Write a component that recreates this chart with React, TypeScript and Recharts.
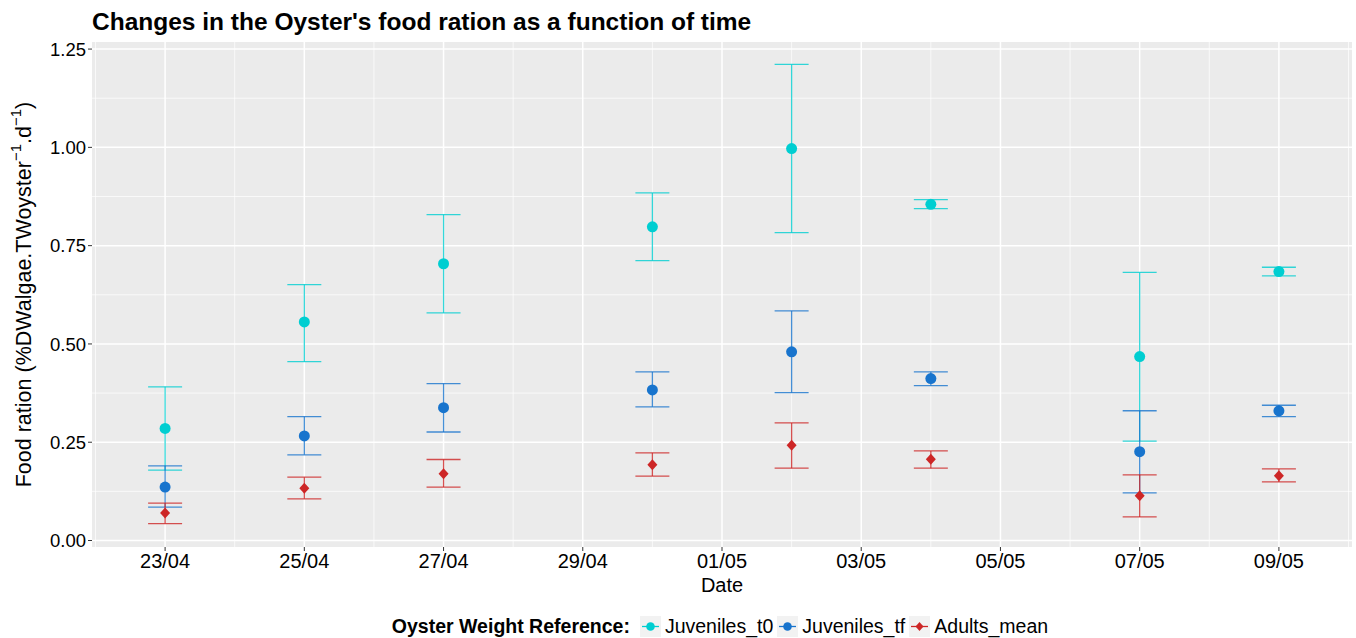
import { ComposedChart, Scatter, ErrorBar, XAxis, YAxis, CartesianGrid, Legend, Label } from 'recharts';

// days counted from 22/04
const sampleDays = [1, 3, 5, 8, 10, 12, 15, 17];
const dateTicks = [1, 3, 5, 7, 9, 11, 13, 15, 17];
const dateLabels = ['23/04', '25/04', '27/04', '29/04', '01/05', '03/05', '05/05', '07/05', '09/05'];
const minorDays = [0, 2, 4, 6, 8, 10, 12, 14, 16, 18];
const yTicks = [0, 0.25, 0.5, 0.75, 1, 1.25];
const yMinor = [0.125, 0.375, 0.625, 0.875, 1.125];
const seriesNames = ['Juveniles_t0', 'Juveniles_tf', 'Adults_mean'];

const t0Mean = [0.285, 0.556, 0.704, 0.798, 0.997, 0.855, 0.468, 0.684];
const t0Low = [0.179, 0.455, 0.579, 0.712, 0.783, 0.844, 0.253, 0.673];
const t0High = [0.391, 0.651, 0.829, 0.884, 1.211, 0.867, 0.682, 0.695];

const tfMean = [0.136, 0.266, 0.338, 0.383, 0.48, 0.412, 0.226, 0.33];
const tfLow = [0.085, 0.218, 0.276, 0.34, 0.376, 0.394, 0.121, 0.315];
const tfHigh = [0.19, 0.315, 0.399, 0.429, 0.584, 0.429, 0.33, 0.344];

const adultMean = [0.07, 0.133, 0.17, 0.193, 0.242, 0.207, 0.114, 0.165];
const adultLow = [0.043, 0.106, 0.136, 0.164, 0.184, 0.184, 0.06, 0.149];
const adultHigh = [0.095, 0.161, 0.206, 0.223, 0.299, 0.228, 0.167, 0.182];

const CYAN = '#00CED1';
const BLUE = '#1874CD';
const RED = '#CD2626';

const build = (mean: number[], low: number[], high: number[]) =>
  sampleDays.map((d, i) => ({ day: d, value: mean[i], err: [mean[i] - low[i], high[i] - mean[i]] }));

const t0Data = build(t0Mean, t0Low, t0High);
const tfData = build(tfMean, tfLow, tfHigh);
const adultData = build(adultMean, adultLow, adultHigh);

const dot = (color: string) => (p: any) => <circle cx={p.cx} cy={p.cy} r={5.5} fill={color} />;
const diamond = (color: string) => (p: any) => (
  <polygon
    points={`${p.cx},${p.cy - 5.5} ${p.cx + 5},${p.cy} ${p.cx},${p.cy + 5.5} ${p.cx - 5},${p.cy}`}
    fill={color}
  />
);

function YTitle({ viewBox }: any) {
  const cx = 24;
  const cy = viewBox.y + viewBox.height / 2;
  return (
    <text x={cx} y={cy} transform={`rotate(-90 ${cx} ${cy})`} textAnchor="middle" dy={7} fontSize={21.5} fill="#000">
      Food ration (%DWalgae.TWoyster
      <tspan dy={-10} fontSize={15}>−1</tspan>
      <tspan dy={10}>.d</tspan>
      <tspan dy={-10} fontSize={15}>−1</tspan>
      <tspan dy={10}>)</tspan>
    </text>
  );
}

function XTitle({ viewBox }: any) {
  return (
    <text x={viewBox.x + viewBox.width / 2} y={592} textAnchor="middle" fontSize={20} fill="#000">
      Date
    </text>
  );
}

function LegendKey({ color, type }: { color: string; type: string }) {
  return (
    <svg width={21} height={21} style={{ display: 'block' }}>
      <rect x={0} y={0} width={21} height={21} fill="#F2F2F2" />
      <line x1={2} y1={10.5} x2={19} y2={10.5} stroke={color} strokeWidth={1.3} />
      {type === 'diamond' ? (
        <polygon points="10.5,6 14.5,10.5 10.5,15 6.5,10.5" fill={color} />
      ) : (
        <circle cx={10.5} cy={10.5} r={4.3} fill={color} />
      )}
    </svg>
  );
}

function renderLegend(props: any) {
  const items = [...(props.payload || [])].sort(
    (a: any, b: any) => seriesNames.indexOf(a.value) - seriesNames.indexOf(b.value),
  );
  return (
    <div style={{ display: 'flex', justifyContent: 'center', alignItems: 'center', fontSize: 19.5, color: '#000' }}>
      <span style={{ fontWeight: 'bold', marginRight: 10 }}>Oyster Weight Reference:</span>
      {items.map((entry: any) => (
        <span key={entry.value} style={{ display: 'flex', alignItems: 'center', marginRight: 4 }}>
          <LegendKey color={entry.color} type={entry.type} />
          <span style={{ marginLeft: 4 }}>{entry.value}</span>
        </span>
      ))}
    </div>
  );
}

export default function App() {
  return (
    <div
      style={{
        position: 'absolute',
        left: 0,
        top: 0,
        width: 1356,
        height: 638,
        background: '#fff',
        fontFamily: '"Liberation Sans", Arial, sans-serif',
      }}
    >
      <div
        style={{
          position: 'absolute',
          left: 92,
          top: 8,
          fontSize: 24.5,
          fontWeight: 'bold',
          lineHeight: '28px',
          color: '#000',
          whiteSpace: 'nowrap',
        }}
      >
        Changes in the Oyster's food ration as a function of time
      </div>
      <ComposedChart width={1356} height={638} margin={{ top: 42, right: 4, left: 0, bottom: 0 }}>
        <CartesianGrid
          fill="#EBEBEB"
          stroke="#FFFFFF"
          strokeWidth={0.7}
          horizontalValues={yMinor}
          verticalValues={minorDays}
        />
        <CartesianGrid
          fill="none"
          stroke="#FFFFFF"
          strokeWidth={1.5}
          horizontalValues={yTicks}
          verticalValues={dateTicks}
        />
        <XAxis
          type="number"
          dataKey="day"
          domain={[-0.05, 18.05]}
          allowDataOverflow
          ticks={dateTicks}
          tickFormatter={(v: number) => dateLabels[dateTicks.indexOf(v)]}
          height={91}
          axisLine={false}
          tickSize={4}
          tickMargin={3}
          tickLine={{ stroke: '#333333' }}
          tick={{ fontSize: 20, fill: '#000' }}
          interval={0}
        >
          <Label content={XTitle} />
        </XAxis>
        <YAxis
          type="number"
          domain={[-0.0165, 1.268]}
          allowDataOverflow
          ticks={yTicks}
          tickFormatter={(v: number) => v.toFixed(2)}
          width={92}
          axisLine={false}
          tickSize={4}
          tickMargin={2}
          tickLine={{ stroke: '#333333' }}
          tick={{ fontSize: 18.5, fill: '#000' }}
          interval={0}
        >
          <Label content={YTitle} />
        </YAxis>
        <Legend
          verticalAlign="middle"
          layout="horizontal"
          content={renderLegend}
          wrapperStyle={{ top: 615, left: 92, width: 1260, height: 23 }}
        />
        <Scatter
          name="Juveniles_t0"
          data={t0Data}
          dataKey="value"
          fill={CYAN}
          legendType="circle"
          shape={dot(CYAN)}
          isAnimationActive={false}
        >
          <ErrorBar dataKey="err" direction="y" width={17} stroke={CYAN} strokeOpacity={0.8} strokeWidth={1.3} isAnimationActive={false} />
        </Scatter>
        <Scatter
          name="Juveniles_tf"
          data={tfData}
          dataKey="value"
          fill={BLUE}
          legendType="circle"
          shape={dot(BLUE)}
          isAnimationActive={false}
        >
          <ErrorBar dataKey="err" direction="y" width={17} stroke={BLUE} strokeOpacity={0.8} strokeWidth={1.3} isAnimationActive={false} />
        </Scatter>
        <Scatter
          name="Adults_mean"
          data={adultData}
          dataKey="value"
          fill={RED}
          legendType="diamond"
          shape={diamond(RED)}
          isAnimationActive={false}
        >
          <ErrorBar dataKey="err" direction="y" width={17} stroke={RED} strokeOpacity={0.8} strokeWidth={1.3} isAnimationActive={false} />
        </Scatter>
      </ComposedChart>
    </div>
  );
}
